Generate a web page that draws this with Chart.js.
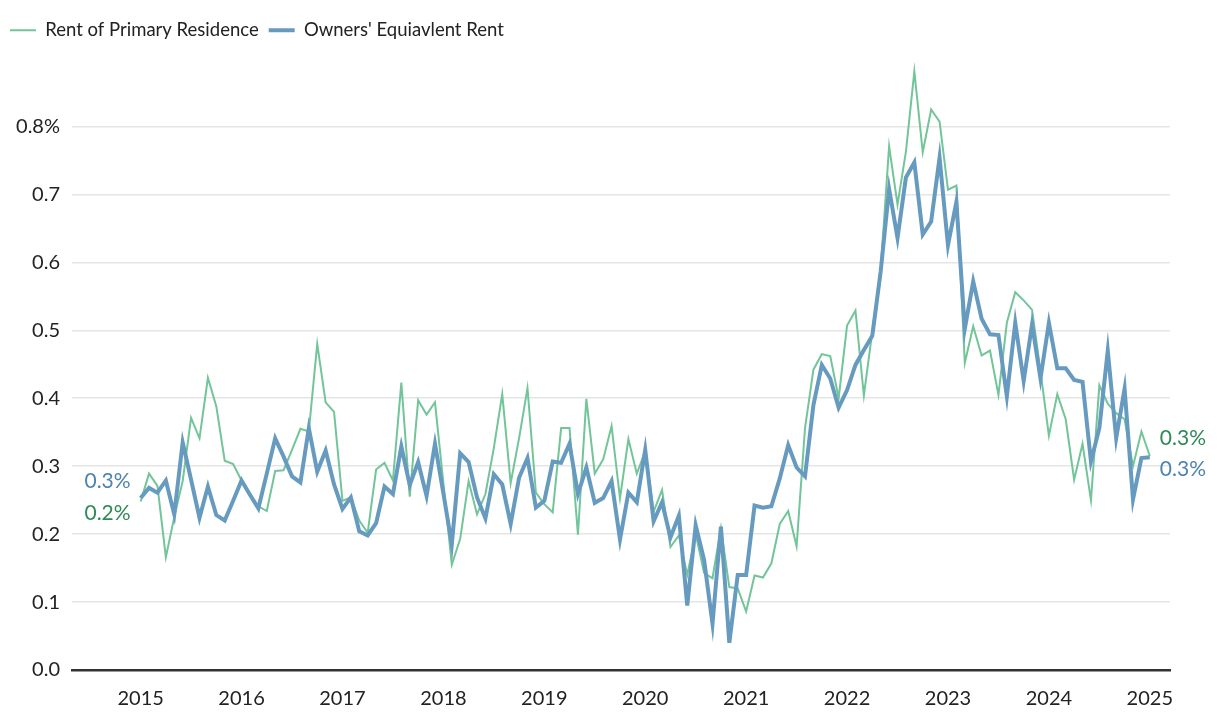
<!DOCTYPE html>
<html>
<head>
<meta charset="utf-8">
<script src="https://cdn.jsdelivr.net/npm/chart.js@4.4.1/dist/chart.umd.min.js"></script>
<style>
  html, body { margin: 0; padding: 0; background: #fff; }
  #wrap { width: 1220px; height: 722px; position: relative; }
</style>
</head>
<body>
<div id="wrap"><canvas id="rentChart"></canvas></div>
<script>
// Monthly change, Jan 2015 - Jan 2025
const startYear = 2015;
const rentLabel = 'Rent of Primary Residence';
const oerLabel = "Owners' Equiavlent Rent";

const rentValues = [
  0.248, 0.289, 0.271, 0.166, 0.225, 0.278, 0.371, 0.341, 0.430, 0.388, 0.308, 0.303,
  0.279, 0.258, 0.241, 0.234, 0.293, 0.294, 0.324, 0.355, 0.351, 0.480, 0.394, 0.380,
  0.249, 0.254, 0.220, 0.202, 0.295, 0.305, 0.279, 0.423, 0.255, 0.397, 0.376, 0.394,
  0.275, 0.155, 0.193, 0.278, 0.229, 0.259, 0.327, 0.406, 0.275, 0.341, 0.415, 0.261,
  0.244, 0.232, 0.356, 0.356, 0.199, 0.399, 0.289, 0.310, 0.359, 0.253, 0.340, 0.289,
  0.322, 0.233, 0.265, 0.181, 0.198, 0.140, 0.200, 0.143, 0.135, 0.209, 0.122, 0.120,
  0.086, 0.139, 0.136, 0.157, 0.215, 0.234, 0.182, 0.356, 0.442, 0.465, 0.462, 0.400,
  0.507, 0.529, 0.404, 0.498, 0.589, 0.771, 0.685, 0.763, 0.881, 0.762, 0.825, 0.807,
  0.707, 0.713, 0.452, 0.506, 0.463, 0.470, 0.405, 0.511, 0.556, 0.544, 0.530, 0.440,
  0.345, 0.406, 0.369, 0.280, 0.333, 0.250, 0.419, 0.392, 0.378, 0.369, 0.300, 0.351,
  0.315
];

const oerValues = [
  0.253, 0.268, 0.261, 0.279, 0.229, 0.335, 0.280, 0.224, 0.270, 0.228, 0.220, 0.249,
  0.279, 0.258, 0.238, 0.289, 0.341, 0.314, 0.285, 0.276, 0.356, 0.292, 0.323, 0.273,
  0.237, 0.254, 0.204, 0.198, 0.216, 0.270, 0.259, 0.329, 0.272, 0.306, 0.256, 0.333,
  0.260, 0.185, 0.319, 0.306, 0.254, 0.223, 0.288, 0.273, 0.215, 0.283, 0.312, 0.239,
  0.249, 0.307, 0.305, 0.333, 0.259, 0.298, 0.246, 0.253, 0.278, 0.192, 0.261, 0.247,
  0.324, 0.219, 0.247, 0.195, 0.227, 0.095, 0.213, 0.162, 0.068, 0.211, 0.040, 0.140,
  0.140, 0.242, 0.239, 0.241, 0.282, 0.331, 0.298, 0.285, 0.390, 0.449, 0.429, 0.386,
  0.412, 0.449, 0.471, 0.492, 0.587, 0.708, 0.636, 0.725, 0.747, 0.641, 0.660, 0.754,
  0.625, 0.689, 0.502, 0.572, 0.517, 0.494, 0.493, 0.403, 0.511, 0.425, 0.509, 0.429,
  0.511, 0.444, 0.444, 0.427, 0.424, 0.307, 0.356, 0.470, 0.341, 0.414, 0.251, 0.312,
  0.313
];

const xTickYears = [2015, 2016, 2017, 2018, 2019, 2020, 2021, 2022, 2023, 2024, 2025];
const yTickValues = [0, 0.1, 0.2, 0.3, 0.4, 0.5, 0.6, 0.7, 0.8];

const GREEN = '#72c599';
const BLUE = '#669bbf';
const GREEN_TEXT = '#2f8a58';
const BLUE_TEXT = '#4d84ae';
const FONT = 'Lato, "Noto Sans", sans-serif';

function toPoints(values) {
  return values.map(function(v, i) {
    return { x: startYear + i / 12, y: v };
  });
}

// legend sits a little above the plot
const legendGap = {
  id: 'legendGap',
  beforeInit(chart) {
    const origFit = chart.legend.fit;
    chart.legend.fit = function() {
      origFit.bind(chart.legend)();
      this.height += 9;
    };
  }
};

// value labels at both ends of each line
const endLabels = {
  id: 'endLabels',
  afterDatasetsDraw(chart) {
    const ctx = chart.ctx;
    ctx.save();
    ctx.font = '21px ' + FONT;
    ctx.textBaseline = 'middle';
    chart.data.datasets.forEach(function(ds, i) {
      const pts = chart.getDatasetMeta(i).data;
      const first = pts[0], last = pts[pts.length - 1];
      const v0 = ds.data[0].y, v1 = ds.data[ds.data.length - 1].y;
      ctx.fillStyle = ds.labelColor;
      ctx.textAlign = 'right';
      ctx.fillText(v0.toFixed(1) + '%', first.x - 10, first.y + ds.startOffset);
      ctx.textAlign = 'left';
      ctx.fillText(v1.toFixed(1) + '%', last.x + 10, last.y + ds.endOffset);
    });
    ctx.restore();
  }
};

new Chart(document.getElementById('rentChart'), {
  type: 'line',
  data: {
    datasets: [{
      label: rentLabel,
      data: toPoints(rentValues),
      borderColor: GREEN,
      backgroundColor: GREEN,
      borderWidth: 2,
      pointRadius: 0,
      tension: 0,
      order: 1,
      labelColor: GREEN_TEXT,
      startOffset: 12,
      endOffset: -18
    }, {
      label: oerLabel,
      data: toPoints(oerValues),
      borderColor: BLUE,
      backgroundColor: BLUE,
      borderWidth: 4,
      pointRadius: 0,
      tension: 0,
      order: 0,
      labelColor: BLUE_TEXT,
      startOffset: -17,
      endOffset: 12
    }]
  },
  options: {
    responsive: true,
    maintainAspectRatio: false,
    animation: false,
    layout: {
      padding: { top: 11, right: 50, left: 0, bottom: 0 }
    },
    plugins: {
      legend: {
        position: 'top',
        align: 'start',
        labels: {
          usePointStyle: true,
          pointStyle: 'line',
          pointStyleWidth: 26,
          color: '#222',
          padding: 10,
          font: { family: FONT, size: 18.5 },
          sort: function(a, b) { return a.datasetIndex - b.datasetIndex; }
        }
      },
      tooltip: { enabled: false }
    },
    scales: {
      x: {
        type: 'linear',
        min: 2014.32,
        max: 2025.2,
        afterBuildTicks: function(scale) {
          scale.ticks = xTickYears.map(function(y) { return { value: y }; });
        },
        afterFit: function(scale) { scale.height = 52; },
        grid: { display: false, drawTicks: false },
        border: { display: true, color: '#333', width: 2.5 },
        ticks: {
          padding: 17,
          color: '#222',
          font: { family: FONT, size: 20 },
          callback: function(v) { return String(v); }
        }
      },
      y: {
        min: 0,
        max: 0.9,
        afterBuildTicks: function(scale) {
          scale.ticks = yTickValues.map(function(v) { return { value: v }; });
        },
        afterFit: function(scale) { scale.width = 72; },
        grid: { color: '#e5e5e5', lineWidth: 1.5, drawTicks: false },
        border: { display: false },
        ticks: {
          padding: 12,
          color: '#222',
          font: { family: FONT, size: 20 },
          callback: function(v) {
            return Math.abs(v - 0.8) < 1e-9 ? '0.8%' : v.toFixed(1);
          }
        }
      }
    }
  },
  plugins: [legendGap, endLabels]
});
</script>
</body>
</html>
